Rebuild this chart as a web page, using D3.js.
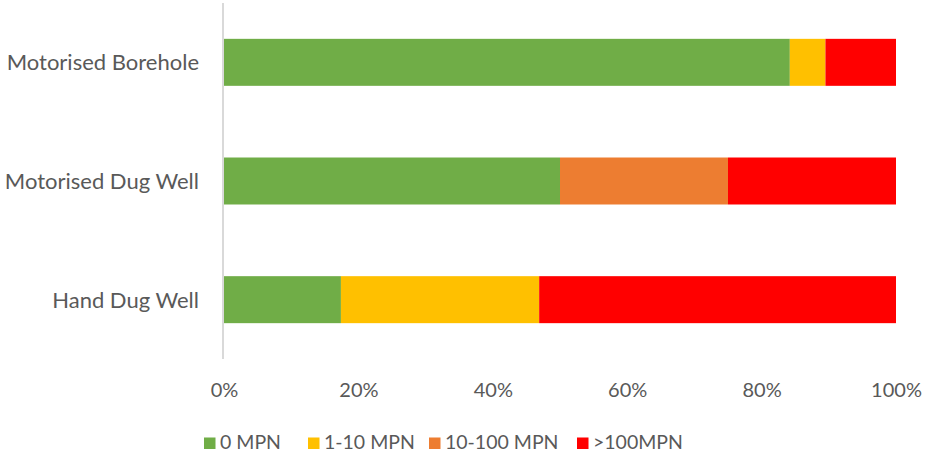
<!DOCTYPE html>
<html>
<head>
<meta charset="utf-8">
<script src="https://cdn.jsdelivr.net/npm/d3@7"></script>
<style>
  html, body { margin: 0; padding: 0; background: #fff; }
  svg { display: block; }
  text { font-family: Lato, "Open Sans", sans-serif; fill: #595959; }
</style>
</head>
<body>
<svg id="chart" width="925" height="453"></svg>
<script>
// Share of samples in each E. coli (MPN) class, by water source
const categories = ["Motorised Borehole", "Motorised Dug Well", "Hand Dug Well"];
const seriesNames = ["0 MPN", "1-10 MPN", "10-100 MPN", ">100MPN"];
const zeroMPN      = [84.2, 50.0, 17.4];
const oneToTen     = [5.3, 0.0, 29.5];
const tenToHundred = [0.0, 25.0, 0.0];
const overHundred  = [10.5, 25.0, 53.1];
const tickValues   = [0, 20, 40, 60, 80, 100];
const colors = ["#70AD47", "#FFC000", "#ED7D31", "#FF0000"];

const seriesValues = [zeroMPN, oneToTen, tenToHundred, overHundred];
const rows = categories.map((c, i) => {
  const r = { category: c };
  seriesNames.forEach((s, j) => { r[s] = seriesValues[j][i]; });
  return r;
});

const svg = d3.select("#chart");
const margin = { left: 224, right: 29, top: 3, bottom: 94 };
const W = 925, H = 453;

const x = d3.scaleLinear().domain([0, 100]).range([margin.left, W - margin.right]);
const y = d3.scaleBand().domain(categories).range([margin.top, H - margin.bottom])
  .paddingInner(0.604).paddingOuter(0.302);

const stacked = d3.stack().keys(seriesNames)(rows);

svg.append("g").selectAll("g")
  .data(stacked)
  .join("g")
  .attr("fill", (d, i) => colors[i])
  .selectAll("rect")
  .data(d => d)
  .join("rect")
  .attr("x", d => x(d[0]))
  .attr("width", d => Math.max(0, x(d[1]) - x(d[0])))
  .attr("y", d => y(d.data.category))
  .attr("height", y.bandwidth());

// vertical category axis line
svg.append("line")
  .attr("x1", x(0) - 1).attr("x2", x(0) - 1)
  .attr("y1", margin.top).attr("y2", H - margin.bottom)
  .attr("stroke", "#D9D9D9").attr("stroke-width", 2);

// category labels
svg.append("g").selectAll("text")
  .data(categories)
  .join("text")
  .attr("x", 199)
  .attr("y", d => y(d) + y.bandwidth() / 2)
  .attr("dy", "0.36em")
  .attr("text-anchor", "end")
  .style("font-size", "22px")
  .text(d => d);

// percentage axis labels
const xAxis = d3.axisBottom(x).tickValues(tickValues).tickFormat(d => d + "%").tickSize(0).tickPadding(0);
const gx = svg.append("g").attr("transform", `translate(0, ${H - margin.bottom})`).call(xAxis);
gx.select(".domain").remove();
gx.selectAll("text")
  .attr("y", 38)
  .attr("dy", 0)
  .style("font-size", "20px")
  .style("font-family", "Lato, 'Open Sans', sans-serif")
  .attr("fill", "#595959");

// legend
const legendX = [204, 308, 429, 577];
const legend = svg.append("g");
seriesNames.forEach((s, i) => {
  legend.append("rect")
    .attr("x", legendX[i]).attr("y", 437.5)
    .attr("width", 11.5).attr("height", 11.5)
    .attr("fill", colors[i]);
  legend.append("text")
    .attr("x", legendX[i] + 16).attr("y", 441.5)
    .attr("dy", "0.36em")
    .style("font-size", "19.5px")
    .text(s);
});
</script>
</body>
</html>
